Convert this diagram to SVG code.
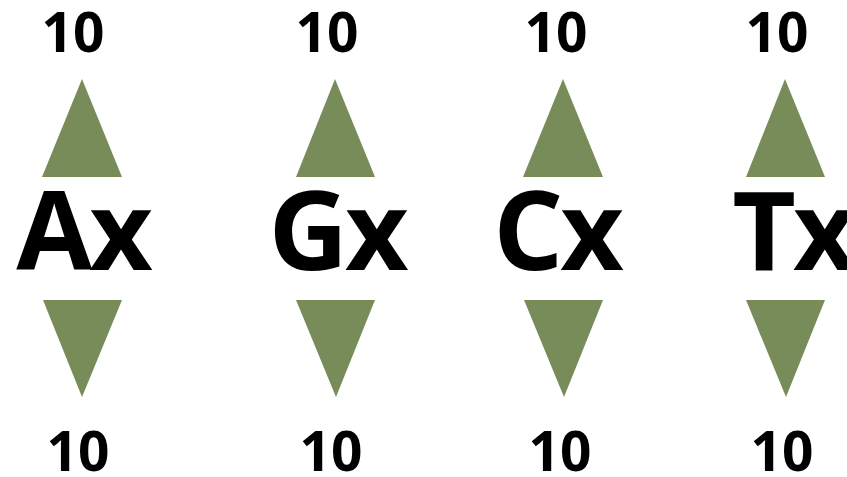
<svg xmlns="http://www.w3.org/2000/svg" width="847" height="477" viewBox="0 0 847 477">
<style>
.tri{fill:#778C59}
.num{font-family:"Open Sans","Liberation Sans",sans-serif;font-weight:bold;font-size:55px;fill:#000;text-anchor:middle}
.big{font-family:"Open Sans","Liberation Sans",sans-serif;font-weight:bold;font-size:110px;fill:#000;text-anchor:middle;letter-spacing:-3px}
</style>
<rect width="847" height="477" fill="#fff"/>
<g id="col-A">
<text class="num" x="73" y="52">10</text>
<polygon class="tri" points="82,79 122,177 42,177"/>
<text class="big" x="83" y="270">Ax</text>
<polygon class="tri" points="43,300 122,300 82,397"/>
<text class="num" x="78" y="471">10</text>
</g>
<g id="col-G">
<text class="num" x="327" y="52">10</text>
<polygon class="tri" points="335,79 375,177 296,177"/>
<text class="big" x="337" y="270">Gx</text>
<polygon class="tri" points="296,300 375,300 336,397"/>
<text class="num" x="331" y="471">10</text>
</g>
<g id="col-C">
<text class="num" x="556" y="52">10</text>
<polygon class="tri" points="563,79 603,177 523,177"/>
<text class="big" x="557" y="270">Cx</text>
<polygon class="tri" points="524,300 603,300 564,397"/>
<text class="num" x="560" y="471">10</text>
</g>
<g id="col-T">
<text class="num" x="777" y="52">10</text>
<polygon class="tri" points="785,79 825,177 746,177"/>
<text class="big" x="793" y="270">Tx</text>
<polygon class="tri" points="746,300 825,300 786,397"/>
<text class="num" x="782" y="471">10</text>
</g>
<g id="connectors"></g>
</svg>
